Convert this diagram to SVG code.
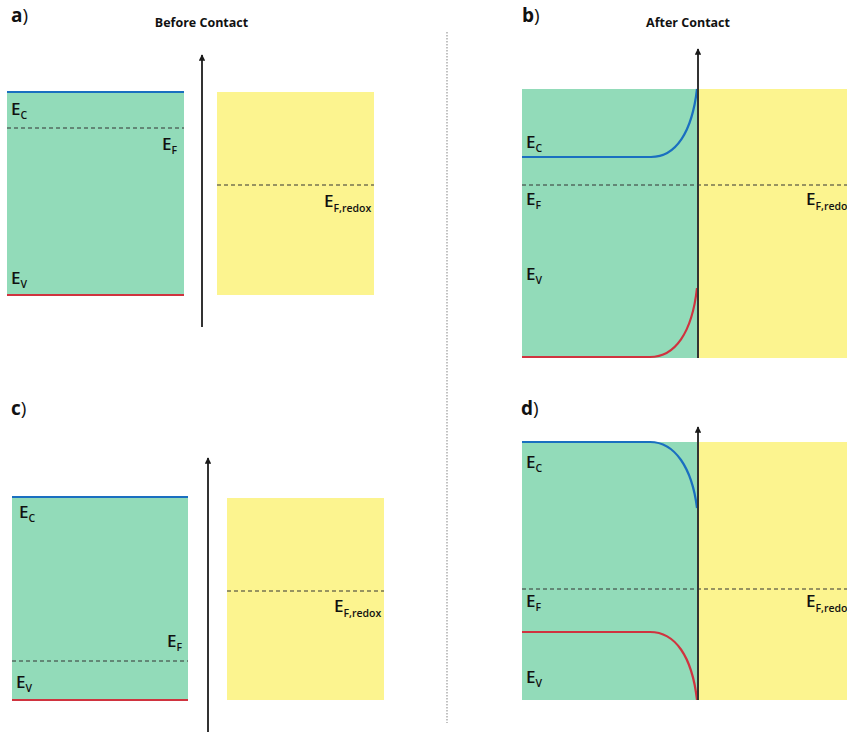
<svg xmlns="http://www.w3.org/2000/svg" width="847" height="733" viewBox="0 0 847 733">
<defs>
<marker id="ah" viewBox="0 0 10 10" refX="9" refY="5" markerWidth="3.2" markerHeight="3.2" orient="auto" markerUnits="strokeWidth">
<path d="M0,0 L10,5 L0,10 z" fill="#1a1a1a"/>
</marker>
<style>
.green{fill:#92dbb9}
.yellow{fill:#fcf48f}
.cb{stroke:#1a6fc0;stroke-width:2.2;fill:none}
.vb{stroke:#d0333f;stroke-width:2.2;fill:none}
.dash{stroke:#333;stroke-width:1;stroke-dasharray:4,3;fill:none}
.axis{stroke:#333;stroke-width:2;fill:none;marker-end:url(#ah)}
.div{stroke:#999;stroke-width:1.2;stroke-dasharray:1.5,1.5;fill:none}
text{font-family:"Open Sans","Liberation Sans",sans-serif;fill:#111}
.lbl{font-size:17px;font-weight:600}
.sub{font-size:10.5px;font-weight:600}
.title{font-size:12.5px;font-weight:700}
.panel{font-size:19px;font-weight:700}
.par{font-weight:400}
</style>
</defs>

<line class="div" x1="447" y1="32" x2="447" y2="723"/>

<g id="titles">
<text class="title" x="201.5" y="27" text-anchor="middle">Before Contact</text>
<text class="title" x="688" y="27" text-anchor="middle">After Contact</text>
<text class="panel" x="11" y="22">a<tspan class="par">)</tspan></text>
<text class="panel" x="522" y="22">b<tspan class="par">)</tspan></text>
<text class="panel" x="11" y="415">c<tspan class="par">)</tspan></text>
<text class="panel" x="521" y="415">d<tspan class="par">)</tspan></text>
</g>

<!-- Panel a -->
<g id="a-semiconductor">
<rect class="green" x="7" y="92" width="177" height="204"/>
<line class="cb" x1="7" y1="92" x2="184" y2="92"/>
<line class="vb" x1="7" y1="295" x2="184" y2="295"/>
<line class="dash" x1="7" y1="128" x2="184" y2="128"/>
<text class="lbl" x="11" y="115">E<tspan class="sub" dy="4">C</tspan></text>
<text class="lbl" x="162" y="150">E<tspan class="sub" dy="4">F</tspan></text>
<text class="lbl" x="11" y="284">E<tspan class="sub" dy="4">V</tspan></text>
</g>
<g id="a-electrolyte">
<rect class="yellow" x="217" y="92" width="157" height="203"/>
<line class="dash" x1="217" y1="185" x2="374" y2="185"/>
<text class="lbl" x="324" y="207">E<tspan class="sub" dy="5">F,redox</tspan></text>
</g>

<!-- Panel b -->
<g id="b-semiconductor">
<rect class="green" x="522" y="89" width="175" height="269"/>
<path class="cb" d="M522,157 H651 C676,157 692,132 697,89"/>
<path class="vb" d="M522,357 H650 C675,357 692,333 697,288"/>
<text class="lbl" x="526" y="148">E<tspan class="sub" dy="4">C</tspan></text>
<text class="lbl" x="526" y="205">E<tspan class="sub" dy="4">F</tspan></text>
<text class="lbl" x="526" y="280">E<tspan class="sub" dy="4">V</tspan></text>
</g>
<g id="b-electrolyte">
<rect class="yellow" x="697" y="89" width="150" height="269"/>
<text class="lbl" x="806" y="205">E<tspan class="sub" dy="5">F,redox</tspan></text>
</g>
<line class="dash" x1="522" y1="185" x2="847" y2="185"/>

<!-- Panel c -->
<g id="c-semiconductor">
<rect class="green" x="12" y="497" width="176" height="203"/>
<line class="cb" x1="12" y1="497" x2="188" y2="497"/>
<line class="vb" x1="12" y1="700" x2="188" y2="700"/>
<line class="dash" x1="12" y1="661" x2="188" y2="661"/>
<text class="lbl" x="19" y="518">E<tspan class="sub" dy="4">C</tspan></text>
<text class="lbl" x="167" y="647">E<tspan class="sub" dy="4">F</tspan></text>
<text class="lbl" x="16" y="688">E<tspan class="sub" dy="4">V</tspan></text>
</g>
<g id="c-electrolyte">
<rect class="yellow" x="227" y="498" width="157" height="202"/>
<line class="dash" x1="227" y1="591" x2="384" y2="591"/>
<text class="lbl" x="334" y="612">E<tspan class="sub" dy="5">F,redox</tspan></text>
</g>

<!-- Panel d -->
<g id="d-semiconductor">
<rect class="green" x="522" y="442" width="175" height="258"/>
<path class="cb" d="M522,442 H650 C675,442 692,468 697,508"/>
<path class="vb" d="M522,632 H650 C675,632 692,656 697,700"/>
<text class="lbl" x="526" y="468">E<tspan class="sub" dy="4">C</tspan></text>
<text class="lbl" x="526" y="607">E<tspan class="sub" dy="4">F</tspan></text>
<text class="lbl" x="526" y="683">E<tspan class="sub" dy="4">V</tspan></text>
</g>
<g id="d-electrolyte">
<rect class="yellow" x="697" y="442" width="150" height="258"/>
<text class="lbl" x="806" y="607">E<tspan class="sub" dy="5">F,redox</tspan></text>
</g>
<line class="dash" x1="522" y1="589" x2="847" y2="589"/>

<g id="connectors">
<line class="axis" x1="202" y1="327" x2="202" y2="55"/>
<line class="axis" x1="698" y1="358" x2="698" y2="49"/>
<line class="axis" x1="208" y1="732" x2="208" y2="458"/>
<line class="axis" x1="698" y1="700" x2="698" y2="427"/>
</g>
</svg>
